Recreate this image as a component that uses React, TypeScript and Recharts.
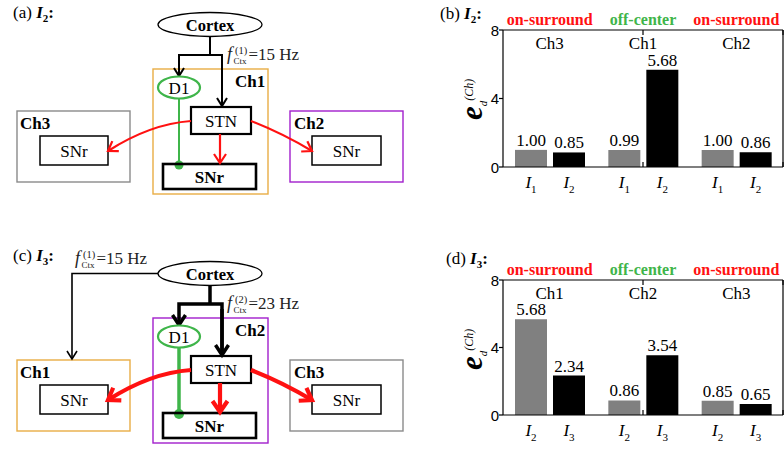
import React from "react";
import { BarChart, Bar, XAxis, YAxis, LabelList } from "recharts";

const SERIF = "'Liberation Serif', 'Times New Roman', serif";
const SANS = "'Liberation Sans', Arial, sans-serif";
const RED = "#ff1111";
const GREEN = "#3fb54a";
const ORANGE = "#e9ad45";
const PURPLE = "#a21fcc";
const GRAYBOX = "#8a8a8a";

// (b) input I2
const B_CHANNELS = ["Ch3", "Ch1", "Ch2"];
const B_ROLES = ["on-surround", "off-center", "on-surround"];
const B_FIRST = [1.0, 0.99, 1.0];
const B_SECOND = [0.85, 5.68, 0.86];
const B_SUBS = ["1", "2"];

// (d) input I3
const D_CHANNELS = ["Ch1", "Ch2", "Ch3"];
const D_ROLES = ["on-surround", "off-center", "on-surround"];
const D_FIRST = [5.68, 0.86, 0.85];
const D_SECOND = [2.34, 3.54, 0.65];
const D_SUBS = ["2", "3"];

const Y_MAJOR = [0, 4, 8];
const Y_MINOR = [2, 6];
const Y_RIGHT = [2, 4, 6];
const SEPARATORS = [1, 2];

const ROLE_COLOR: Record<string, string> = {
  "on-surround": RED,
  "off-center": GREEN,
};

function boxOf(p: any) {
  const vb = p.viewBox || {};
  return {
    x: vb.x ?? p.x,
    y: vb.y ?? p.y,
    w: vb.width ?? p.width,
    h: vb.height ?? p.height,
  };
}

function ValueLabel(p: any) {
  const b = boxOf(p);
  return (
    <text x={b.x + b.w / 2} y={b.y - 4} textAnchor="middle" fontFamily={SERIF} fontSize={17} fill="#000">
      {Number(p.value).toFixed(2)}
    </text>
  );
}

function InputLabel(p: any) {
  const b = boxOf(p);
  return (
    <text x={b.x + b.w / 2} y={b.y + b.h + 21} textAnchor="middle" fontFamily={SERIF} fontSize={17} fill="#000">
      <tspan fontStyle="italic">I</tspan>
      <tspan fontSize={11} dy={5}>{p.sub}</tspan>
    </text>
  );
}

function EmptyTick() {
  return <g />;
}

function YTick(p: any) {
  return (
    <text x={p.x} y={p.y + 5.5} textAnchor="end" fontFamily={SANS} fontSize={15} fill="#000">
      {p.payload.value}
    </text>
  );
}

function GroupTick(p: any) {
  const i = p.index ?? p.payload.index;
  const role = p.roles[i];
  return (
    <g>
      <text x={p.x} y={p.y - 5.5} textAnchor="middle" fontFamily={SERIF} fontWeight="bold" fontSize={16} fill={ROLE_COLOR[role]}>
        {role}
      </text>
      <text x={p.x} y={p.y + 19} textAnchor="middle" fontFamily={SERIF} fontSize={17} fill="#000">
        {p.payload.value}
      </text>
    </g>
  );
}

type PanelProps = {
  top: number;
  plotTop: number;
  plotBottom: number;
  channels: string[];
  roles: string[];
  first: number[];
  second: number[];
  subs: string[];
  tag: string;
  tagSub: string;
  tagX: number;
  tagY: number;
};

function BarPanel(props: PanelProps) {
  const { top, plotTop, plotBottom, channels, roles, first, second, subs } = props;
  const data = channels.map((ch, i) => ({ ch, a: first[i], b: second[i] }));
  const ax = { stroke: "#000", strokeWidth: 1.2 };
  const eY = plotTop + 90;
  return (
    <div style={{ position: "absolute", left: 400, top, width: 384, height: 225 }}>
      <BarChart
        width={384}
        height={225}
        data={data}
        margin={{ top: plotTop - 1, right: 1, bottom: 225 - plotBottom, left: 102 }}
        barSize={32}
        barGap={6}
      >
        <XAxis
          xAxisId="g"
          dataKey="ch"
          orientation="top"
          height={1}
          tickSize={0}
          tickMargin={0}
          tickLine={false}
          axisLine={ax}
          interval={0}
          tick={(t: any) => <GroupTick {...t} roles={roles} />}
        />
        <XAxis
          xAxisId="sepT"
          type="number"
          domain={[0, 3]}
          allowDataOverflow
          ticks={SEPARATORS}
          orientation="top"
          mirror
          height={1}
          tickSize={5}
          axisLine={false}
          tickLine={ax}
          tick={EmptyTick}
        />
        <XAxis
          xAxisId="sepB"
          type="number"
          domain={[0, 3]}
          allowDataOverflow
          ticks={SEPARATORS}
          orientation="bottom"
          mirror
          height={1}
          tickSize={5}
          axisLine={ax}
          tickLine={ax}
          tick={EmptyTick}
        />
        <YAxis
          yAxisId="l"
          domain={[0, 8]}
          ticks={Y_MAJOR}
          width={1}
          tickSize={4}
          tickMargin={0}
          axisLine={ax}
          tickLine={ax}
          tick={YTick}
        />
        <YAxis
          yAxisId="lm"
          domain={[0, 8]}
          ticks={Y_MINOR}
          width={1}
          mirror
          tickSize={4}
          axisLine={false}
          tickLine={ax}
          tick={EmptyTick}
        />
        <YAxis
          yAxisId="r"
          orientation="right"
          domain={[0, 8]}
          ticks={Y_RIGHT}
          width={1}
          mirror
          tickSize={4}
          axisLine={ax}
          tickLine={ax}
          tick={EmptyTick}
        />
        <Bar xAxisId="g" yAxisId="l" dataKey="a" fill="#808080" isAnimationActive={false}>
          <LabelList dataKey="a" content={ValueLabel} />
          <LabelList dataKey="a" content={(p: any) => <InputLabel {...p} sub={subs[0]} />} />
        </Bar>
        <Bar xAxisId="g" yAxisId="l" dataKey="b" fill="#000000" isAnimationActive={false}>
          <LabelList dataKey="b" content={ValueLabel} />
          <LabelList dataKey="b" content={(p: any) => <InputLabel {...p} sub={subs[1]} />} />
        </Bar>
      </BarChart>
      <svg width={384} height={225} style={{ position: "absolute", left: 0, top: 0, pointerEvents: "none" }}>
        <text x={props.tagX} y={props.tagY} fontFamily={SERIF} fontSize={17} fill="#000">
          {props.tag + " "}
          <tspan fontWeight="bold" fontStyle="italic">I</tspan>
          <tspan fontWeight="bold" fontSize={11} dy={4}>{props.tagSub}</tspan>
          <tspan fontWeight="bold" dy={-4}>:</tspan>
        </text>
        <text transform={`translate(82, ${eY}) rotate(-90)`} fontFamily={SERIF} fill="#000">
          <tspan fontWeight="bold" fontStyle="italic" fontSize={31}>e</tspan>
          <tspan fontStyle="italic" fontSize={11} dy={5}>d</tspan>
          <tspan fontStyle="italic" fontSize={12} dy={-14}>(Ch)</tspan>
        </text>
      </svg>
    </div>
  );
}

type Pt = [number, number];

function head(tip: Pt, from: Pt, len: number, half: number) {
  const dx = tip[0] - from[0];
  const dy = tip[1] - from[1];
  const d = Math.hypot(dx, dy) || 1;
  const ux = dx / d;
  const uy = dy / d;
  const bx = tip[0] - ux * len;
  const by = tip[1] - uy * len;
  return `${bx - uy * half},${by + ux * half} ${tip[0]},${tip[1]} ${bx + uy * half},${by - ux * half}`;
}

function Arrow({ d, tip, from, color, w, len, half }: any) {
  return (
    <g fill="none" stroke={color} strokeWidth={w}>
      <path d={d} />
      <polyline points={head(tip, from, len, half)} />
    </g>
  );
}

function Box({ x, y, w, h, color, sw, label, bold }: any) {
  return (
    <g>
      <rect x={x} y={y} width={w} height={h} fill="none" stroke={color} strokeWidth={sw} />
      {label && (
        <text x={x + w / 2} y={y + h / 2 + 6} textAnchor="middle" fontFamily={SERIF} fontSize={17} fontWeight={bold ? "bold" : "normal"} fill="#000">
          {label}
        </text>
      )}
    </g>
  );
}

function FLabel({ x, y, sup, value }: any) {
  return (
    <text fontFamily={SERIF} fontSize={17} fill="#222">
      <tspan x={x} y={y} fontStyle="italic" fontSize={18}>f</tspan>
      <tspan x={x + 8} y={y - 6} fontSize={10.5}>{sup}</tspan>
      <tspan x={x + 6.5} y={y + 3.5} fontSize={9}>Ctx</tspan>
      <tspan x={x + 21.5} y={y}>{value}</tspan>
    </text>
  );
}

function Diagram({ dy, strong, center, left, right, tag, tagSub }: any) {
  const k = strong ? 3.5 : 2;
  const kh = strong ? [10, 6.5] : [8, 5];
  const r = strong ? 4.2 : 2.2;
  const rh = strong ? [11, 7.5] : [9, 6];
  const g = strong ? 3.5 : 2;
  return (
    <g transform={`translate(0, ${dy})`}>
      <text x={13} y={tag.y} fontFamily={SERIF} fontSize={17} fill="#000">
        {tag.text + " "}
        <tspan fontWeight="bold" fontStyle="italic">I</tspan>
        <tspan fontWeight="bold" fontSize={11} dy={4}>{tagSub}</tspan>
        <tspan fontWeight="bold" dy={-4}>:</tspan>
      </text>

      {/* channel frames */}
      <Box x={153} y={69} w={115} h={125} color={center.color} sw={1.4} />
      <Box x={17} y={111} w={113} h={71} color={left.color} sw={1.4} />
      <Box x={290} y={111} w={113} h={71} color={right.color} sw={1.4} />
      <text x={235} y={87} fontFamily={SERIF} fontWeight="bold" fontSize={17}>{center.name}</text>
      <text x={20} y={129} fontFamily={SERIF} fontWeight="bold" fontSize={17}>{left.name}</text>
      <text x={294} y={129} fontFamily={SERIF} fontWeight="bold" fontSize={17}>{right.name}</text>

      {/* cortex */}
      <ellipse cx={210} cy={24.5} rx={52} ry={12} fill="#fff" stroke="#000" strokeWidth={1.3} />
      <text x={210} y={30.5} textAnchor="middle" fontFamily={SERIF} fontWeight="bold" fontSize={16.5}>Cortex</text>
      <path d={`M210,${36.5} V55`} stroke="#000" strokeWidth={k} fill="none" />
      <Arrow d="M179,76 V55 H222 V106" tip={[179, 76]} from={[179, 60]} color="#000" w={k} len={kh[0]} half={kh[1]} />
      <Arrow d="M222,60 V106" tip={[222, 106]} from={[222, 90]} color="#000" w={k} len={kh[0]} half={kh[1]} />
      {strong && (
        <Arrow d="M158,24.5 H72 V110" tip={[72, 110]} from={[72, 90]} color="#000" w={1.6} len={8} half={5} />
      )}

      {/* D1 and its projection */}
      <path d="M179,99 V165" stroke={GREEN} strokeWidth={g} fill="none" />
      <circle cx={179} cy={165} r={strong ? 5 : 4.5} fill={GREEN} />
      <ellipse cx={179} cy={87.5} rx={21} ry={11} fill="#fff" stroke={GREEN} strokeWidth={2.2} />
      <text x={179} y={93.5} textAnchor="middle" fontFamily={SERIF} fontSize={17}>D1</text>

      {/* STN and SNr */}
      <Box x={191} y={107} w={60} h={27} color="#000" sw={2.2} label="STN" />
      <Box x={163} y={164} w={93} h={25} color="#000" sw={2.6} label="SNr" bold />
      <Box x={40} y={136} w={68} h={29} color="#000" sw={1.5} label="SNr" />
      <Box x={312} y={136} w={69} h={29} color="#000" sw={1.5} label="SNr" />

      {/* STN output */}
      <Arrow d="M220,134 V163" tip={[220, 163]} from={[220, 150]} color={RED} w={r} len={rh[0]} half={rh[1]} />
      <Arrow d="M191,121 Q150,124 108,151" tip={[108, 151]} from={[150, 124]} color={RED} w={r} len={rh[0]} half={rh[1]} />
      <Arrow d="M251,121 Q282,133 312,151" tip={[312, 151]} from={[282, 133]} color={RED} w={r} len={rh[0]} half={rh[1]} />
    </g>
  );
}

export default function App() {
  return (
    <div style={{ position: "absolute", left: 0, top: 0, width: 784, height: 450, background: "#fff", overflow: "hidden" }}>
      <svg width={410} height={450} style={{ position: "absolute", left: 0, top: 0 }}>
        <Diagram
          dy={0}
          strong={false}
          center={{ name: "Ch1", color: ORANGE }}
          left={{ name: "Ch3", color: GRAYBOX }}
          right={{ name: "Ch2", color: PURPLE }}
          tag={{ text: "(a)", y: 18 }}
          tagSub="2"
        />
        <FLabel x={227} y={60} sup="(1)" value="=15 Hz" />
        <Diagram
          dy={249}
          strong
          center={{ name: "Ch2", color: PURPLE }}
          left={{ name: "Ch1", color: ORANGE }}
          right={{ name: "Ch3", color: GRAYBOX }}
          tag={{ text: "(c)", y: 12 }}
          tagSub="3"
        />
        <FLabel x={75} y={264} sup="(1)" value="=15 Hz" />
        <FLabel x={227} y={309} sup="(2)" value="=23 Hz" />
      </svg>
      <BarPanel
        top={0}
        plotTop={30}
        plotBottom={167}
        channels={B_CHANNELS}
        roles={B_ROLES}
        first={B_FIRST}
        second={B_SECOND}
        subs={B_SUBS}
        tag="(b)"
        tagSub="2"
        tagX={40}
        tagY={19}
      />
      <BarPanel
        top={225}
        plotTop={55}
        plotBottom={190}
        channels={D_CHANNELS}
        roles={D_ROLES}
        first={D_FIRST}
        second={D_SECOND}
        subs={D_SUBS}
        tag="(d)"
        tagSub="3"
        tagX={46}
        tagY={39}
      />
    </div>
  );
}
